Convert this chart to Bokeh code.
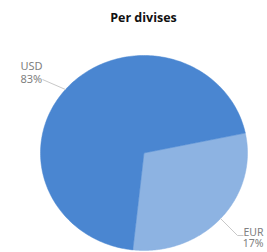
import numpy as np
from bokeh.plotting import figure
from bokeh.models import Range1d
from bokeh.core.properties import value
from bokeh.embed import file_html
from bokeh.resources import INLINE

# ---- data ----
title = "Per divises"
currencies = ["USD", "EUR"]
pct_labels = ["83%", "17%"]
drawn_shares = [70.0, 30.0]  # slice sizes as they appear in the picture (percent)
colors = ["#4a86d1", "#8db3e2"]

# ---- layout / style (data units = pixels from the figure's top-left) ----
W, H = 267, 252
cx, cy, rx, ry = 143.5, 152.5, 103.5, 97.5
eur_start_deg = 11.8  # slices go clockwise from here: EUR then USD

p = figure(width=W, height=H, output_backend="svg", toolbar_location=None,
           x_range=Range1d(0, W), y_range=Range1d(H, 0), min_border=0)
p.axis.visible = False
p.grid.visible = False
p.outline_line_color = None
p.background_fill_color = "white"
p.border_fill_color = "white"

order = [1, 0]
xs, ys, cols = [], [], []
a0 = np.radians(eur_start_deg)
for i in order:
    span = np.radians(drawn_shares[i] / sum(drawn_shares) * 360.0)
    t = np.linspace(a0, a0 - span, 200)
    xs.append([cx] + list(cx + rx * np.cos(t)) + [cx])
    ys.append([cy] + list(cy - ry * np.sin(t)) + [cy])
    cols.append(colors[i])
    a0 -= span
p.patches(xs=xs, ys=ys, fill_color=cols, line_color=cols, line_width=0.5)

p.line(x=[42, 65], y=[79, 89], line_color="#c8c8c8", line_width=1)
p.line(x=[220, 237, 243], y=[218, 235, 235], line_color="#c8c8c8", line_width=1)

lab_font = value("Noto Sans")
p.text(x=[20, 20], y=[57, 70], text=[currencies[0], pct_labels[0]],
       text_font=lab_font, text_font_size="11px", text_color="#808080",
       text_baseline="top", text_align="left")
p.text(x=[263, 263], y=[224, 235], text=[currencies[1], pct_labels[1]],
       text_font=lab_font, text_font_size="10.5px", text_color="#808080",
       text_baseline="top", text_align="right")

p.text(x=[143], y=[17], text=[title], text_font=value("Open Sans"),
       text_font_style="bold", text_font_size="12.5px", text_color="#111111",
       text_baseline="middle", text_align="center")

open("out.html", "w").write(file_html(p, INLINE))
